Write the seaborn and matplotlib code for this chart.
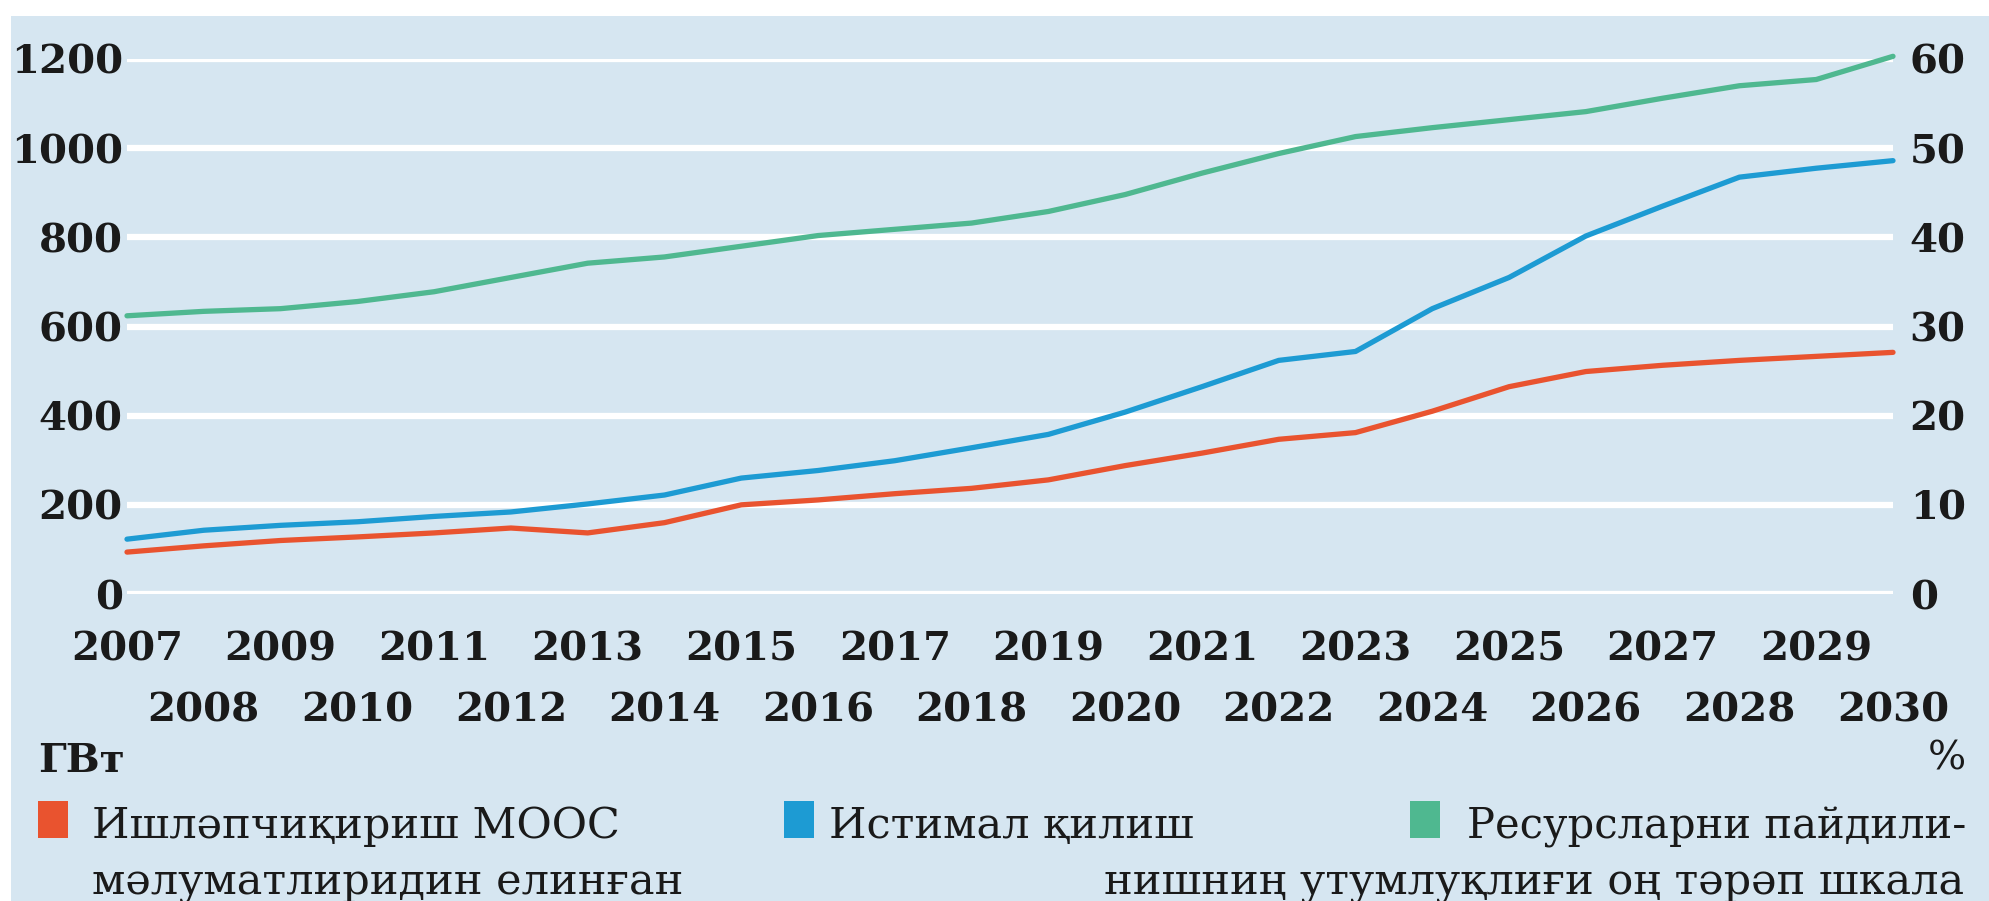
import matplotlib
matplotlib.use("Agg")
import matplotlib.pyplot as plt
import seaborn as sns
import pandas as pd
from matplotlib.patches import Rectangle

sns.set_theme(style="white")
plt.rcParams['font.family'] = ['DejaVu Serif']

# Data
years = list(range(2007, 2031))
production = [94, 108, 120, 128, 137, 148, 137, 160, 200, 211, 225, 237, 256,
              288, 316, 347, 362, 410, 465, 499, 513, 524, 533, 542]
consumption = [123, 143, 154, 162, 174, 184, 202, 222, 260, 277, 299, 328, 358,
               408, 465, 524, 544, 640, 710, 803, 870, 935, 955, 972]
efficiency = [31.2, 31.7, 32.0, 32.8, 33.9, 35.5, 37.1, 37.8, 39.0, 40.2, 40.9,
              41.6, 42.9, 44.8, 47.2, 49.4, 51.3, 52.3, 53.2, 54.1, 55.6, 57.0,
              57.7, 60.3]

left_ticks = [0, 200, 400, 600, 800, 1000, 1200]
right_ticks = [0, 10, 20, 30, 40, 50, 60]

unit_left = "ГВт"
unit_right = "%"
legend_1 = ["Ишләпчиқириш МООС", "мәлуматлиридин елинған"]
legend_2 = "Истимал қилиш"
legend_3 = ["Ресурсларни пайдили-", "нишниң утумлуқлиғи оң тәрәп шкала"]

BG = "#d6e6f1"
RED = "#e9532f"
BLUE = "#1d9bd3"
GREEN = "#4fb890"
W, H = 1990, 901


def fx(x):
    return x / W


def fy(y):
    return 1 - y / H


df = pd.DataFrame({"year": years, "production": production,
                   "consumption": consumption, "efficiency": efficiency})

fig = plt.figure(figsize=(W / 100, H / 100), dpi=100)
fig.patches.append(Rectangle((fx(11), 0), 1 - fx(11), fy(16), transform=fig.transFigure,
                             facecolor=BG, edgecolor='none', zorder=-5))

ax = fig.add_axes([fx(127), fy(594), fx(1893) - fx(127), fy(59) - fy(594)])
ax.set_facecolor('none')
ax2 = ax.twinx()
ax2.set_facecolor('none')

sns.lineplot(data=df, x="year", y="production", ax=ax, color=RED, linewidth=3.8)
sns.lineplot(data=df, x="year", y="consumption", ax=ax, color=BLUE, linewidth=3.8)
sns.lineplot(data=df, x="year", y="efficiency", ax=ax2, color=GREEN, linewidth=3.8)
for line in ax.lines + ax2.lines:
    line.set_clip_on(False)

ax.set_xlim(2007, 2030)
ax.set_ylim(0, 1200)
ax2.set_ylim(0, 60)

ax.yaxis.grid(True, color='white', linewidth=4.5)
ax.set_axisbelow(True)

odd = [y for y in years if y % 2 == 1]
even = [y for y in years if y % 2 == 0]
ax.set_xticks(odd, [str(y) for y in odd], fontsize=29, fontweight='bold')
ax.set_xticks(even, [str(y) for y in even], minor=True, fontsize=29, fontweight='bold')
ax.tick_params(axis='x', which='major', length=8, width=2.5, color='white', pad=18,
               labelcolor='#1a1a1a')
ax.tick_params(axis='x', which='minor', length=8, width=2.5, color='white', pad=62,
               labelcolor='#1a1a1a')

ax.set_yticks(left_ticks, [str(v) for v in left_ticks], fontsize=29, fontweight='bold')
ax.tick_params(axis='y', length=0, pad=3, labelcolor='#1a1a1a')
ax2.set_yticks(right_ticks, [str(v) for v in right_ticks], fontsize=29, fontweight='bold')
ax2.tick_params(axis='y', length=0, pad=12, labelcolor='#1a1a1a')

for a in (ax, ax2):
    a.set_xlabel("")
    a.set_ylabel("")
    for s in a.spines.values():
        s.set_visible(False)

fig.text(fx(38), fy(772), unit_left, fontsize=29, fontweight='bold', va='baseline',
         color='#1a1a1a')
fig.text(fx(1966), fy(770), unit_right, fontsize=29, ha='right', va='baseline',
         color='#1a1a1a')

# legend
for x0, col in [(38, RED), (784, BLUE), (1410, GREEN)]:
    fig.patches.append(Rectangle((fx(x0), fy(838)), fx(30), 37 / H,
                                 transform=fig.transFigure, facecolor=col,
                                 edgecolor='none'))
fig.text(fx(92), fy(838), legend_1[0], fontsize=31, va='baseline', color='#1a1a1a')
fig.text(fx(92), fy(895), legend_1[1], fontsize=31, va='baseline', color='#1a1a1a')
fig.text(fx(829), fy(838), legend_2, fontsize=31, va='baseline', color='#1a1a1a')
fig.text(fx(1467), fy(838), legend_3[0], fontsize=30, va='baseline', color='#1a1a1a')
fig.text(fx(1964), fy(895), legend_3[1], fontsize=31, ha='right', va='baseline',
         color='#1a1a1a')

fig.savefig("out.png", dpi=100, facecolor='white')
